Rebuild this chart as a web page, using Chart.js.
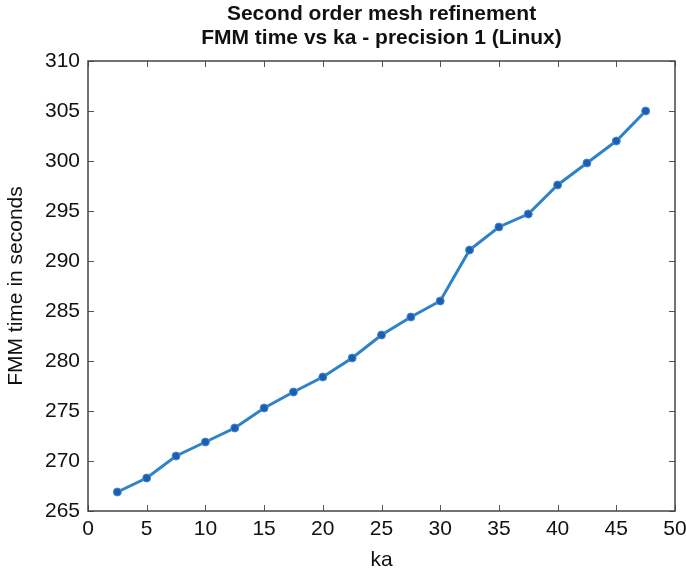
<!DOCTYPE html>
<html>
<head>
<meta charset="utf-8">
<script src="https://cdn.jsdelivr.net/npm/chart.js@4"></script>
<style>
  html, body { margin: 0; padding: 0; background: #fff; }
  #wrap { width: 686px; height: 573px; }
</style>
</head>
<body>
<div id="wrap"><canvas id="c" width="686" height="573"></canvas></div>
<script>
// data
const ka = [2.5, 5, 7.5, 10, 12.5, 15, 17.5, 20, 22.5, 25, 27.5, 30, 32.5, 35, 37.5, 40, 42.5, 45, 47.5];
const fmmTime = [266.9, 268.3, 270.5, 271.9, 273.3, 275.3, 276.9, 278.4, 280.3, 282.6, 284.4, 286.0, 291.1, 293.4, 294.7, 297.6, 299.8, 302.0, 305.0];
const titleLines = ['Second order mesh refinement', 'FMM time vs ka - precision 1 (Linux)'];
const xTicks = [0, 5, 10, 15, 20, 25, 30, 35, 40, 45, 50];
const yTicks = [265, 270, 275, 280, 285, 290, 295, 300, 305, 310];

const FONT = '"Liberation Sans", Arial, Helvetica, sans-serif';

// box, inward ticks on all four sides, and the two-line title
const matlabAxes = {
  id: 'matlabAxes',
  afterDraw(chart) {
    const ctx = chart.ctx;
    const a = chart.chartArea;
    const xs = chart.scales.x, ys = chart.scales.y;
    ctx.save();
    ctx.strokeStyle = '#555';
    ctx.lineWidth = 1;
    ctx.beginPath();
    xTicks.forEach(v => {
      const px = Math.round(xs.getPixelForValue(v)) + 0.5;
      ctx.moveTo(px, a.bottom); ctx.lineTo(px, a.bottom - 6);
      ctx.moveTo(px, a.top); ctx.lineTo(px, a.top + 6);
    });
    yTicks.forEach(v => {
      const py = Math.round(ys.getPixelForValue(v)) + 0.5;
      ctx.moveTo(a.left, py); ctx.lineTo(a.left + 6, py);
      ctx.moveTo(a.right, py); ctx.lineTo(a.right - 6, py);
    });
    ctx.stroke();
    ctx.strokeStyle = '#444';
    ctx.lineWidth = 1.5;
    ctx.strokeRect(a.left, a.top, a.right - a.left, a.bottom - a.top);

    ctx.fillStyle = '#111';
    ctx.font = 'bold 21px ' + FONT;
    ctx.textAlign = 'center';
    ctx.textBaseline = 'middle';
    const cx = (a.left + a.right) / 2;
    ctx.fillText(titleLines[0], cx, 14);
    ctx.fillText(titleLines[1], cx, 38);
    ctx.restore();
  }
};

new Chart(document.getElementById('c'), {
  type: 'line',
  data: {
    datasets: [{
      data: ka.map((k, i) => ({ x: k, y: fmmTime[i] })),
      borderColor: '#2e82c8',
      borderWidth: 3,
      pointBackgroundColor: '#1f5db0',
      pointBorderColor: '#3f8fd6',
      pointBorderWidth: 1,
      pointRadius: 4,
      tension: 0
    }]
  },
  options: {
    responsive: false,
    animation: false,
    layout: { padding: { top: 61, right: 11, left: 0, bottom: 0 } },
    plugins: {
      legend: { display: false },
      tooltip: { enabled: false },
      title: { display: false }
    },
    scales: {
      x: {
        type: 'linear',
        min: 0, max: 50,
        afterBuildTicks: s => { s.ticks = xTicks.map(v => ({ value: v })); },
        afterFit: s => { s.height = 62; s.paddingLeft = 0; s.paddingRight = 0; },
        grid: { display: false, drawTicks: false },
        border: { display: false },
        ticks: { color: '#111', font: { family: FONT, size: 21 }, padding: 6, maxRotation: 0 },
        title: { display: true, text: 'ka', color: '#111', font: { family: FONT, size: 21 }, padding: { top: 0, bottom: 0 } }
      },
      y: {
        min: 265, max: 310,
        afterBuildTicks: s => { s.ticks = yTicks.map(v => ({ value: v })); },
        afterFit: s => { s.width = 88; s.paddingTop = 0; s.paddingBottom = 0; },
        grid: { display: false, drawTicks: false },
        border: { display: false },
        ticks: { color: '#111', font: { family: FONT, size: 21 }, padding: 8 },
        title: { display: true, text: 'FMM time in seconds', color: '#111', font: { family: FONT, size: 21 }, padding: { top: 4, bottom: 0 } }
      }
    }
  },
  plugins: [matlabAxes]
});
</script>
</body>
</html>
